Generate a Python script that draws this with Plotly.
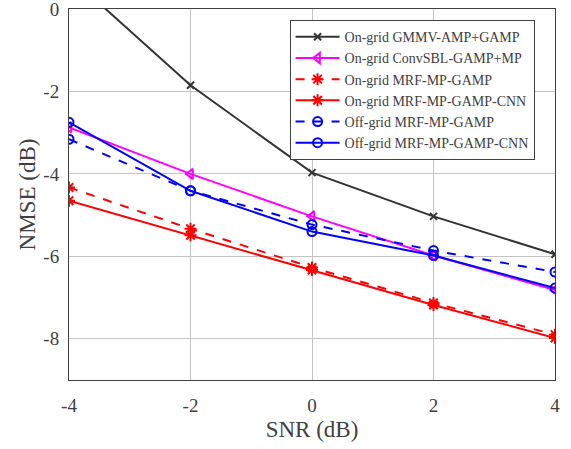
import plotly.graph_objects as go

snr = [-4, -2, 0, 2, 4]
gmmv = [0.8, -1.85, -3.97, -5.03, -5.95]
convsbl = [-2.87, -4.0, -5.03, -5.98, -6.82]
mrf_on = [-4.33, -5.33, -6.27, -7.13, -7.9]
mrf_cnn_on = [-4.65, -5.49, -6.33, -7.18, -7.98]
mrf_off = [-3.16, -4.41, -5.23, -5.86, -6.38]
mrf_cnn_off = [-2.75, -4.41, -5.40, -5.98, -6.77]

ticks_x = [-4, -2, 0, 2, 4]
ticks_y = [-8, -6, -4, -2, 0]

series = [
    ("On-grid GMMV-AMP+GAMP", gmmv, "#333333", "solid", "x-thin-open", 7),
    ("On-grid ConvSBL-GAMP+MP", convsbl, "#ff00ff", "solid", "triangle-left-open", 9),
    ("On-grid MRF-MP-GAMP", mrf_on, "#ff0000", "dash", "asterisk-open", 10),
    ("On-grid MRF-MP-GAMP-CNN", mrf_cnn_on, "#ff0000", "solid", "asterisk-open", 10),
    ("Off-grid MRF-MP-GAMP", mrf_off, "#0000ff", "dash", "circle-open", 9),
    ("Off-grid MRF-MP-GAMP-CNN", mrf_cnn_off, "#0000ff", "solid", "circle-open", 9),
]

fig = go.Figure()
for name, ys, col, dash, sym, sz in series:
    fig.add_trace(go.Scatter(
        x=snr, y=ys, name=name, mode="lines+markers",
        line=dict(color=col, width=2, dash=dash),
        marker=dict(symbol=sym, size=sz, color=col, line=dict(color=col, width=2)),
        cliponaxis=True,
    ))

font = "Liberation Serif, Times New Roman, serif"
fig.update_layout(
    width=571, height=449,
    margin=dict(l=69, r=16, t=9, b=69, autoexpand=False),
    paper_bgcolor="white", plot_bgcolor="white",
    font=dict(family=font, size=19, color="#404040"),
    showlegend=True,
    legend=dict(
        x=0.958, y=0.97, xanchor="right", yanchor="top",
        bgcolor="white", bordercolor="#404040", borderwidth=1,
        font=dict(family=font, size=14, color="#404040"),
        tracegroupgap=0, itemwidth=44,
    ),
    xaxis=dict(
        range=[-4, 4], tickvals=ticks_x, ticktext=[str(v) for v in ticks_x],
        showgrid=True, gridcolor="#c4c4c4", gridwidth=1,
        showline=True, linecolor="#404040", linewidth=1, mirror=True,
        ticks="", ticklabelstandoff=8, ticklabeloverflow="allow",
        zeroline=False, automargin=False,
        title=dict(text="SNR (dB)", font=dict(size=23), standoff=6),
    ),
    yaxis=dict(
        range=[-9, 0], tickvals=ticks_y, ticktext=[str(v) for v in ticks_y],
        showgrid=True, gridcolor="#c4c4c4", gridwidth=1,
        showline=True, linecolor="#404040", linewidth=1, mirror=True,
        ticks="", ticklabelstandoff=5, ticklabeloverflow="allow",
        zeroline=False, automargin=False,
        title=dict(text="NMSE (dB)", font=dict(size=23), standoff=1),
    ),
)
fig.write_html("out.html", config={"displayModeBar": False},
               post_script="document.body.style.margin='0';")
